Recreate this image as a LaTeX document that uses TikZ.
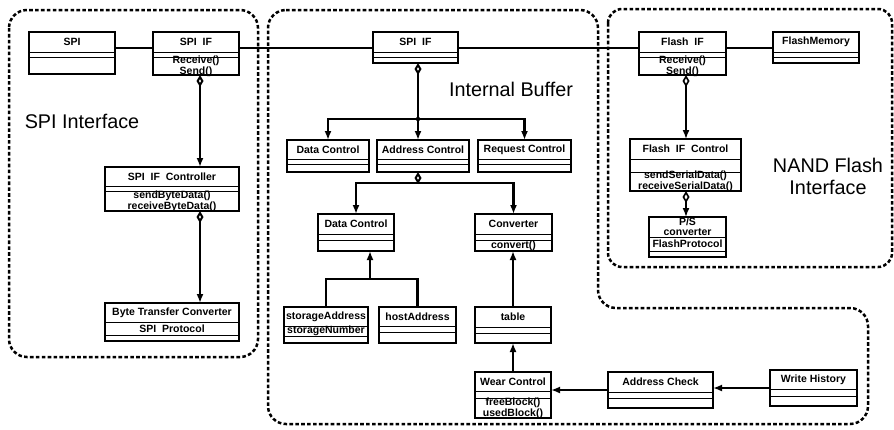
\documentclass[tikz,border=0pt]{standalone}
\usepackage{fontspec}
\setmainfont{Liberation Sans}
\usetikzlibrary{arrows.meta}

% UML class box: name, x1, y1, x2, y2, y of the two compartment lines,
% class name, attribute text (operations are placed at (name-o))
\newcommand\umlclass[9]{%
  \node[classbox, minimum width={(#4-(#2))*1pt}, minimum height={(#5-(#3))*1pt}]
    (#1) at ({(#2+#4)/2},{(#3+#5)/2}) {};
  \draw[compline] (#2,#6) -- (#4,#6) (#2,#7) -- (#4,#7);
  \node[ctitle] (#1-n) at ({(#2+#4)/2},{(#3+#6)/2}) {#8};
  \ifx\relax#9\relax\else\node[cattr] (#1-a) at ({(#2+#4)/2},{(#6+#7)/2}) {#9};\fi
  \coordinate (#1-o) at ({(#2+#4)/2},{(#7+#5)/2});
}

\tikzset{
  classbox/.style={draw, rectangle, line width=1.3pt, inner sep=0pt, outer sep=0pt},
  compline/.style={line width=1pt},
  ctitle/.style={font=\fontsize{10.5}{10}\selectfont\bfseries, inner sep=0pt, align=center},
  cattr/.style={font=\fontsize{10.5}{10}\selectfont\bfseries, inner sep=0pt},
  cops/.style={font=\fontsize{10.5}{9}\selectfont\bfseries, inner sep=0pt, align=center},
  assoc/.style={line width=2.3pt, -{Latex[length=9pt,width=7pt]}},
  aggr/.style={line width=2pt, {Diamond[open,length=12pt,width=7pt]}-{Latex[length=9pt,width=7pt]}},
  trunk/.style={line width=2pt, {Diamond[open,length=12pt,width=7pt]}-},
  branch/.style={line width=2.3pt},
  link/.style={line width=1.1pt},
  region/.style={line width=2.5pt, dash pattern=on 3.6pt off 2.3pt, rounded corners=18pt},
  biglabel/.style={font=\fontsize{19.8}{22}\selectfont, inner sep=0pt, align=center},
}

\begin{document}
\begin{tikzpicture}[x=1pt, y=-1pt]
\useasboundingbox (0,0) rectangle (894,429);
\fill[white] (0,0) rectangle (894,429);

% package borders
\draw[region] (9,10) rectangle (258,357);
\draw[region] (268,10) -- (598,10) -- (598,308) -- (868,308) -- (868,424) -- (268,424) -- cycle;
\draw[region, rounded corners=14pt] (608,9) rectangle (892,267);

% package titles
\node[biglabel] (lblspi) at (82,121) {SPI Interface};
\node[biglabel] (lblbuf) at (511,89) {Internal Buffer};
\node[biglabel] (lblnand) at (828,176) {NAND Flash\\Interface};

% classes
\umlclass{spi}{29}{32}{115}{74}{52}{57}{SPI}{}
\umlclass{spiifl}{153}{32}{239}{75}{52}{57}{SPI\ \ IF}{}
\node[cops] at (spiifl-o) {Receive()\\Send()};
\umlclass{spiifm}{373}{32}{458}{63}{52}{57}{SPI\ \ IF}{}
\umlclass{flashif}{639}{32}{726}{75}{52}{57}{Flash\ \ IF}{}
\node[cops] at (flashif-o) {Receive()\\Send()};
\umlclass{flashmem}{773}{32}{859}{63}{52}{57}{FlashMemory}{}

\umlclass{spictl}{105}{167}{239}{211}{186}{191}{SPI\ \ IF\ \ Controller}{}
\node[cops] at (spictl-o) {sendByteData()\\receiveByteData()};
\umlclass{btc}{105}{303}{239}{341}{322}{335}{Byte Transfer Converter}{SPI\ \ Protocol}

\umlclass{dca}{287}{140}{369}{172}{159}{164}{Data Control}{}
\umlclass{adc}{377}{140}{469}{172}{159}{164}{Address Control}{}
\umlclass{rqc}{478}{140}{571}{172}{159}{164}{Request Control}{}

\umlclass{dcb}{318}{214}{394}{251}{234}{240}{Data Control}{}
\umlclass{conv}{475}{214}{552}{251}{234}{240}{Converter}{}
\node[cops] at (conv-o) {convert()};

\umlclass{sad}{284}{307}{368}{343}{326}{336}{storageAddress}{storageNumber}
\umlclass{had}{379}{307}{456}{343}{326}{332}{hostAddress}{}
\umlclass{tbl}{475}{307}{551}{343}{327}{333}{table}{}

\umlclass{wear}{475}{372}{551}{418}{391}{398}{Wear Control}{}
\node[cops] at (wear-o) {freeBlock()\\usedBlock()};
\umlclass{ach}{608}{372}{713}{408}{392}{398}{Address Check}{}
\umlclass{wh}{770}{370}{857}{406}{389}{396}{Write History}{}

\umlclass{fic}{630}{139}{741}{191}{159}{172}{Flash\ \ IF\ \ Control}{}
\node[cops] at (fic-o) {sendSerialData()\\receiveSerialData()};
\umlclass{psc}{649}{217}{726}{257}{237}{251}{P/S\\converter}{FlashProtocol}

% helper coordinates
\coordinate (bus) at (0,48);
\coordinate (xa) at (200,0);
\coordinate (xb) at (686,0);
\coordinate (ja) at (418,119);
\coordinate (jb) at (418,183);
\coordinate (jc) at (370,279);

% top interface line
\draw[link] (spi.east |- bus) -- (spiifl.west |- bus);
\draw[link] (spiifl.east |- bus) -- (spiifm.west |- bus);
\draw[link] (spiifm.east |- bus) -- (flashif.west |- bus);
\draw[link] (flashif.east |- bus) -- (flashmem.west |- bus);

% SPI interface
\draw[aggr] (spiifl.south -| xa) -- (spictl.north -| xa);
\draw[aggr] (spictl.south -| xa) -- (btc.north -| xa);

% internal buffer
\draw[trunk] (spiifm.south -| ja) -- (ja);
\draw[assoc] (ja) -| (dca.north);
\draw[assoc] (ja) -- (ja |- adc.north);
\draw[assoc] (ja) -| (rqc.north);
\fill (ja) circle (2.2pt);

\draw[trunk] (adc.south -| jb) -- (jb);
\draw[assoc] (jb) -| (dcb.north);
\draw[assoc] (jb) -| (conv.north);

\draw[branch] (sad.north) |- (had.north |- jc) -- (had.north);
\draw[assoc] (jc) -- (jc |- dcb.south);

\draw[assoc] (tbl.north) -- (tbl.north |- conv.south);
\draw[assoc] (wear.north) -- (wear.north |- tbl.south);
\draw[assoc] (ach.west) -- (ach.west -| wear.east);
\draw[assoc] (wh.west) -- (wh.west -| ach.east);

% NAND flash interface
\draw[aggr, line width=1.6pt] (flashif.south -| xb) -- (fic.north -| xb);
\draw[aggr, line width=1.6pt] (fic.south -| xb) -- (psc.north -| xb);
\end{tikzpicture}
\end{document}
